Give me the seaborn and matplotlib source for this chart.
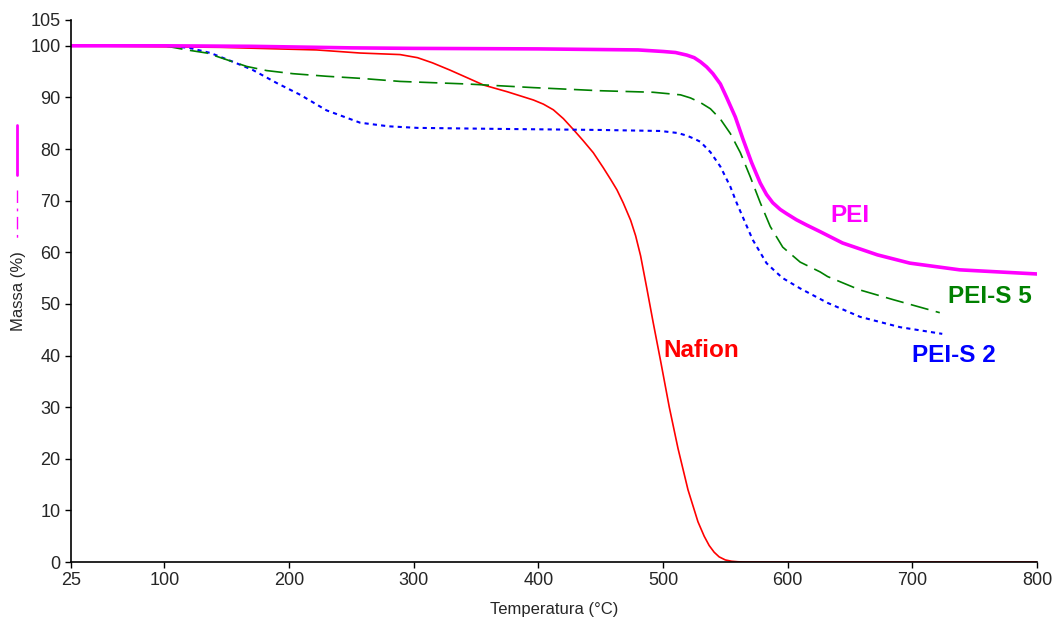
import numpy as np
import pandas as pd
import seaborn as sns
import matplotlib.pyplot as plt
from matplotlib.lines import Line2D

# TGA curves (temperature in C, mass in %)
pei_temp = [25, 100, 170, 250, 300, 400, 480, 500, 510, 519, 525, 530, 535, 540, 546, 551, 558,
            564, 571, 578, 583, 588, 594, 599, 607, 615, 626, 644, 672, 698, 738, 800]
pei_mass = [100, 100, 99.9, 99.6, 99.5, 99.4, 99.2, 98.9, 98.7, 98.2, 97.7, 96.9, 95.9, 94.6, 92.6, 90.0, 86.2,
            82.0, 77.4, 73.4, 71.2, 69.6, 68.3, 67.5, 66.3, 65.3, 64.0, 61.8, 59.5, 57.9, 56.6, 55.8]

peis5_temp = [100, 118, 134, 150, 166, 182, 203, 230, 257, 289, 343, 396, 449, 492, 514, 522,
              530, 538, 546, 554, 562, 570, 578, 586, 596, 610, 626, 632, 658, 685, 722]
peis5_mass = [100, 99.2, 98.6, 97.3, 96.0, 95.2, 94.6, 94.1, 93.7, 93.1, 92.6, 91.9, 91.3, 91.0, 90.5, 89.9,
              89.0, 87.8, 85.8, 83.0, 79.3, 74.6, 69.6, 65.0, 61.0, 58.1, 56.2, 55.3, 52.7, 50.8, 48.3]

peis2_temp = [100, 120, 137, 155, 171, 190, 209, 230, 257, 280, 303, 369, 449, 498, 512, 519, 525,
              530, 538, 546, 554, 559, 566, 572, 583, 590, 596, 610, 632, 658, 690, 724]
peis2_mass = [100, 99.6, 98.6, 96.9, 95.3, 92.8, 90.5, 87.5, 85.1, 84.4, 84.1, 83.9, 83.7, 83.5, 83.1, 82.6, 82.0,
              81.4, 79.4, 76.6, 72.7, 69.6, 65.7, 62.4, 57.9, 56.3, 55.0, 53.0, 50.2, 47.5, 45.5, 44.2]

nafion_temp = [25, 145, 222, 257, 289, 303, 315, 329, 343, 356, 375, 396, 404, 412, 420, 428, 436,
               444, 452, 458, 463, 468, 474, 478, 482, 487, 492, 498, 505, 512, 520, 528, 533,
               537, 541, 545, 550, 555, 560, 565, 800]
nafion_mass = [100, 99.7, 99.2, 98.6, 98.3, 97.7, 96.7, 95.3, 93.8, 92.4, 91.1, 89.5, 88.7, 87.6, 85.9, 83.8, 81.6,
               79.3, 76.4, 74.1, 72.1, 69.6, 66.2, 63.2, 59.3, 53.0, 46.5, 39.0, 30.0, 22.0, 14.0, 7.8, 5.0,
               3.2, 1.9, 1.0, 0.4, 0.15, 0.05, 0.0, 0.0]

x_ticks = [25, 100, 200, 300, 400, 500, 600, 700, 800]
y_ticks = [0, 10, 20, 30, 40, 50, 60, 70, 80, 90, 100, 105]

sns.set_style("white")
plt.rcParams['font.family'] = ['Liberation Sans', 'DejaVu Sans']

fig = plt.figure(figsize=(10.53, 6.17), dpi=100)
ax = fig.add_axes([0.0674, 0.0891, 0.9174, 0.8785])

nafion = pd.DataFrame({"T": nafion_temp, "m": nafion_mass})
peis2 = pd.DataFrame({"T": peis2_temp, "m": peis2_mass})
peis5 = pd.DataFrame({"T": peis5_temp, "m": peis5_mass})
pei = pd.DataFrame({"T": pei_temp, "m": pei_mass})

sns.lineplot(data=nafion, x="T", y="m", estimator=None, color="#FF0000", lw=1.2, ax=ax)
sns.lineplot(data=peis2, x="T", y="m", estimator=None, color="#0000FF", lw=1.5,
             linestyle=(0, (2, 2)), ax=ax)
sns.lineplot(data=peis5, x="T", y="m", estimator=None, color="#008000", lw=1.2,
             linestyle=(0, (11, 4.5)), ax=ax)
sns.lineplot(data=pei, x="T", y="m", estimator=None, color="#FF00FF", lw=2.6, ax=ax)

ax.set_xlim(25, 800)
ax.set_ylim(0, 105)
ax.set_xticks(x_ticks)
ax.set_yticks(y_ticks)
ax.tick_params(axis="both", labelsize=13, length=4, width=1, color="black",
               direction="out", bottom=True, left=True)
ax.set_xlabel("Temperatura (°C)", fontsize=12, labelpad=9)
ax.set_ylabel("Massa (%)", fontsize=12, labelpad=3)

sns.despine(ax=ax)
for s in ["left", "bottom"]:
    ax.spines[s].set_color("black")
    ax.spines[s].set_linewidth(1.2)

# series labels
ax.text(634, 67.2, "PEI", color="#FF00FF", fontsize=17.5, fontweight="bold", va="center")
ax.text(729, 51.4, "PEI-S 5", color="#008000", fontsize=17.5, fontweight="bold", va="center")
ax.text(700, 40.1, "PEI-S 2", color="#0000FF", fontsize=17.5, fontweight="bold", va="center")
ax.text(500, 40.9, "Nafion", color="#FF0000", fontsize=17.5, fontweight="bold", va="center")

# clipped legend remnants at the far left
fig.add_artist(Line2D([17 / 1053, 17 / 1053], [1 - 125 / 617, 1 - 175 / 617],
                      color="#FF00FF", lw=2))
fig.add_artist(Line2D([17 / 1053, 17 / 1053], [1 - 190 / 617, 1 - 240 / 617],
                      color="#FF00FF", lw=1, linestyle=(0, (9, 4, 2, 4))))

fig.savefig("out.png", dpi=100, facecolor="white")
